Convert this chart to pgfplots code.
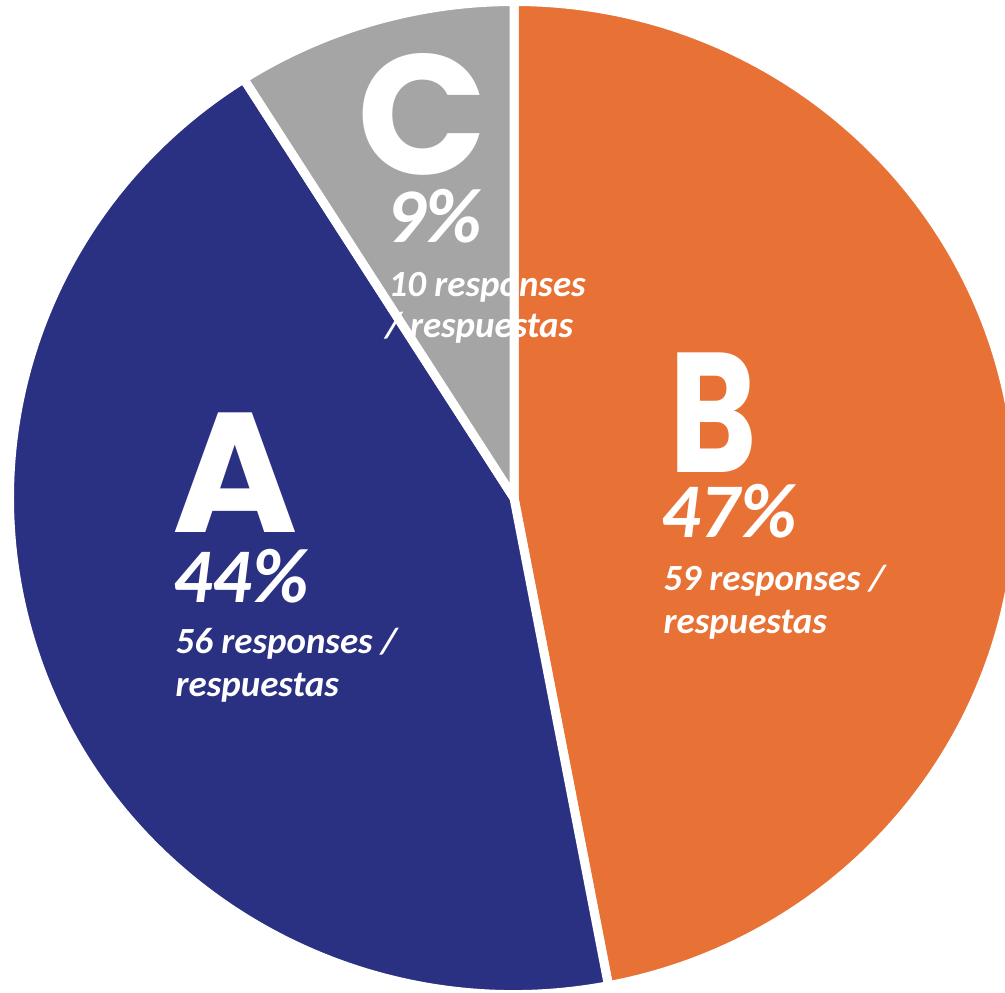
\documentclass[border=0pt]{standalone}
\usepackage{pgfplots}
\pgfplotsset{compat=1.18}
\usepackage{pgfplotstable}
\usepackage{fontspec}
\setmainfont{Carlito}
\newfontfamily\letterfont{Poppins}
\definecolor{colA}{HTML}{2A3082}
\definecolor{colB}{HTML}{E87235}
\definecolor{colC}{HTML}{A5A5A5}

\pgfplotstableread{
label pct resp
B 47 59
A 44 56
C 9 10
}\piedata
\pgfplotstablegetelem{0}{pct}\of\piedata \let\pB\pgfplotsretval
\pgfplotstablegetelem{1}{pct}\of\piedata \let\pA\pgfplotsretval
\pgfplotstablegetelem{2}{pct}\of\piedata \let\pC\pgfplotsretval
\pgfmathsetmacro{\sB}{90}
\pgfmathsetmacro{\eB}{90-3.6*\pB}
\pgfmathsetmacro{\eA}{\eB-3.6*\pA}
\pgfmathsetmacro{\eC}{\eA-3.6*\pC}

\tikzset{
  slice/.style={line width=0.09cm, draw=white, line join=miter},
  big/.style={anchor=base west, inner sep=0pt, text=white, text depth=0pt, text height=0.7em, font=\letterfont\bfseries\fontsize{48.5}{48.5}\selectfont},
  pct/.style={anchor=base west, inner sep=0pt, text=white, text depth=0pt, text height=0.62em, font=\bfseries\itshape\fontsize{22}{22}\selectfont},
  small/.style={anchor=base west, inner sep=0pt, text=white, text depth=0.1em, text height=0.62em, font=\bfseries\itshape\fontsize{10.5}{10.5}\selectfont},
}
\def\cx{514}
\def\cy{494}

\begin{document}
\begin{tikzpicture}
\useasboundingbox (0,0) rectangle (10.05,9.92);
\clip (0,0) rectangle (10.05,9.92);
\begin{axis}[at={(0,0)}, anchor=south west, scale only axis,
  width=10.05cm, height=9.92cm, xmin=0, xmax=1005, ymin=0, ymax=992,
  hide axis, clip=false]
\fill[colB, slice] (axis cs:\cx,\cy) -- ++(\sB:5.045cm and 4.965cm) arc[start angle=\sB, end angle=\eB, x radius=5.045cm, y radius=4.965cm] -- cycle;
\fill[colA, slice] (axis cs:\cx,\cy) -- ++(\eB:5.045cm and 4.965cm) arc[start angle=\eB, end angle=\eA, x radius=5.045cm, y radius=4.965cm] -- cycle;
\fill[colC, slice] (axis cs:\cx,\cy) -- ++(\eA:5.045cm and 4.965cm) arc[start angle=\eA, end angle=\eC, x radius=5.045cm, y radius=4.965cm] -- cycle;

\node[big] at (axis cs:172,460) {A};
\node[pct] at (axis cs:173,390) {44\%};
\node[small] at (axis cs:175,339) {56 responses /};
\node[small] at (axis cs:175,296) {respuestas};

\node[big, xscale=0.78] at (axis cs:669,520) {B};
\node[pct] at (axis cs:661,455) {47\%};
\node[small] at (axis cs:663,402) {59 responses /};
\node[small] at (axis cs:663,359) {respuestas};

\node[big] at (axis cs:357,817) {C};
\node[pct] at (axis cs:386,749) {9\%};
\node[small] at (axis cs:388,695) {10 responses};
\node[small] at (axis cs:385,654) {/ respuestas};
\end{axis}
\end{tikzpicture}
\end{document}
